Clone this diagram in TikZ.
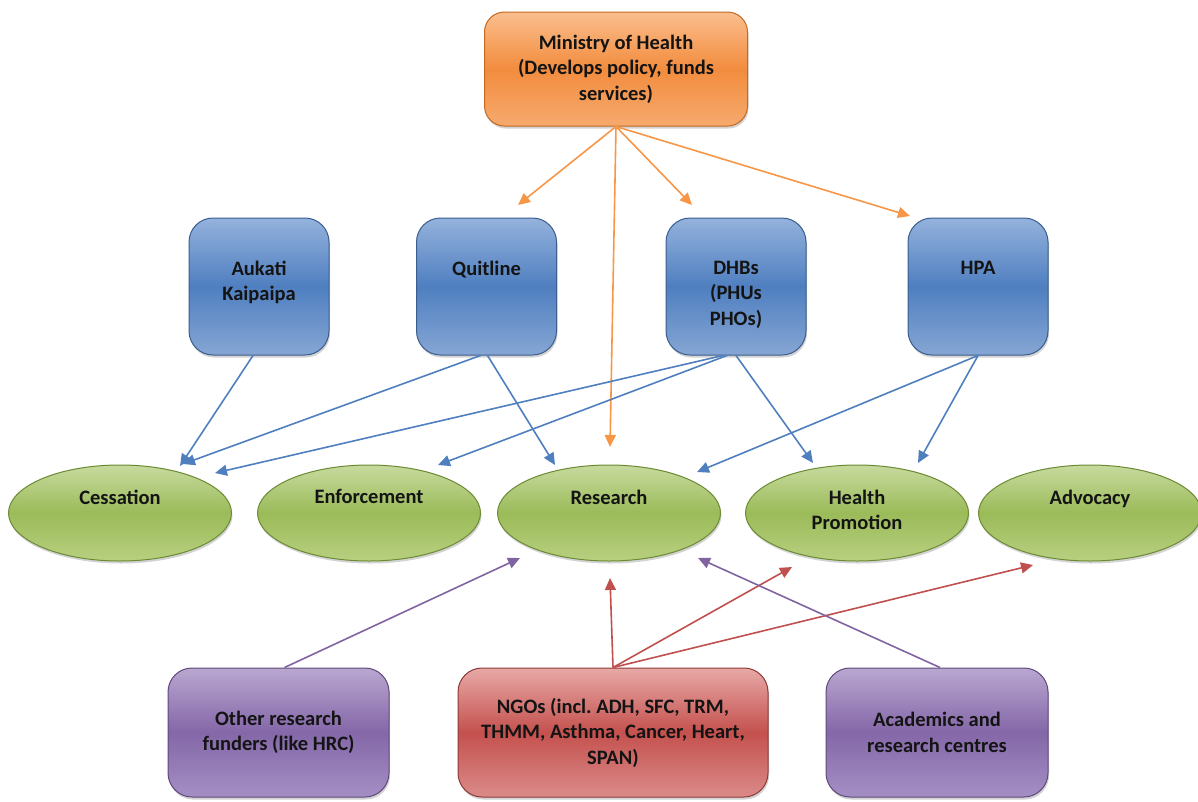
\documentclass[tikz,border=0pt]{standalone}
\usepackage{fontspec}
\setmainfont{Carlito}
\usepackage{xcolor}
\usetikzlibrary{shapes.geometric, arrows.meta, positioning, shadows}

\definecolor{orgtop}{HTML}{FBBE8E}
\definecolor{orgmid}{HTML}{F28C3E}
\definecolor{orgbot}{HTML}{F6AA6E}
\definecolor{orgline}{HTML}{C4691F}
\definecolor{blutop}{HTML}{94B2DC}
\definecolor{blumid}{HTML}{4F7FC0}
\definecolor{blubot}{HTML}{86A6D4}
\definecolor{bluline}{HTML}{3A5E8E}
\definecolor{grntop}{HTML}{C7DA9E}
\definecolor{grnmid}{HTML}{9BBB59}
\definecolor{grnbot}{HTML}{B8D080}
\definecolor{grnline}{HTML}{6B8A33}
\definecolor{prptop}{HTML}{B9A7D0}
\definecolor{prpmid}{HTML}{8467A8}
\definecolor{prpbot}{HTML}{A48FC4}
\definecolor{prpline}{HTML}{5F4A7B}
\definecolor{redtop}{HTML}{E8A9A7}
\definecolor{redmid}{HTML}{C4514E}
\definecolor{redbot}{HTML}{DA8B89}
\definecolor{redline}{HTML}{8E3A37}
\definecolor{arrorg}{HTML}{F79646}
\definecolor{arrblu}{HTML}{4F7FBE}
\definecolor{arrred}{HTML}{C0504D}
\definecolor{arrprp}{HTML}{8064A2}

\begin{document}
\begin{tikzpicture}[x=1pt, y=-1pt,
  txt/.style={font=\bfseries\fontsize{20.5}{25.5}\selectfont, text=black!92, align=center, inner sep=0pt},
  shape base/.style={draw, line width=1pt, inner sep=0pt,
    drop shadow={shadow xshift=1pt, shadow yshift=-2.5pt, opacity=.35}},
  mohbox/.style={shape base, rounded corners=20pt, draw=orgline,
    top color=orgtop, bottom color=orgbot, middle color=orgmid,
    minimum width=263pt, minimum height=114pt},
  provbox/.style={shape base, rounded corners=24pt, draw=bluline,
    top color=blutop, bottom color=blubot, middle color=blumid,
    minimum width=140pt, minimum height=137pt},
  areaell/.style={shape base, ellipse, draw=grnline,
    top color=grntop, bottom color=grnbot, middle color=grnmid,
    minimum width=223pt, minimum height=96pt},
  fundbox/.style={shape base, rounded corners=24pt, draw=prpline,
    top color=prptop, bottom color=prpbot, middle color=prpmid,
    minimum width=221pt, minimum height=129pt},
  ngobox/.style={shape base, rounded corners=24pt, draw=redline,
    top color=redtop, bottom color=redbot, middle color=redmid,
    minimum width=310pt, minimum height=129pt},
  link/.style={line width=1.6pt, -{Triangle[length=12pt, width=11pt]}},
]
  \useasboundingbox (0,0) rectangle (1198,801);

  % ministry
  \node[mohbox, txt] (moh) at (616,69) {Ministry of Health\\(Develops policy, funds\\services)};

  % providers
  \node[provbox] (aukati) at (259,286.5) {};
  \node[provbox] (quit) at (486.5,286.5) {};
  \node[provbox] (dhb) at (736,286.5) {};
  \node[provbox] (hpa) at (978,286.5) {};
  \node[txt, anchor=north] (aukatitext) at ([yshift=-43pt]aukati.north) {Aukati\\Kaipaipa};
  \node[txt, anchor=north] (quittext) at ([yshift=-43pt]quit.north) {Quitline};
  \node[txt, anchor=north] (dhbtext) at ([yshift=-43pt]dhb.north) {DHBs\\(PHUs\\PHOs)};
  \node[txt, anchor=north] (hpatext) at ([yshift=-43pt]hpa.north) {HPA};

  % areas of work
  \node[areaell] (cess) at (120,513) {};
  \node[areaell] (enf) at (369,513) {};
  \node[areaell] (res) at (609,513) {};
  \node[areaell] (promo) at (857,513) {};
  \node[areaell] (adv) at (1090,513) {};
  \node[txt, anchor=north] (cesstext) at ([yshift=-25pt]cess.north) {Cessation};
  \node[txt, anchor=north] (enftext) at ([yshift=-25pt]enf.north) {Enforcement};
  \node[txt, anchor=north] (restext) at ([yshift=-25pt]res.north) {Research};
  \node[txt, anchor=north] (promotext) at ([yshift=-25pt]promo.north) {Health\\Promotion};
  \node[txt, anchor=north] (advtext) at ([yshift=-25pt]adv.north) {Advocacy};

  % funders
  \node[fundbox, txt] (funders) at (278.5,732.5) {Other research\\funders (like HRC)};
  \node[ngobox, txt] (ngo) at (613,732.5) {NGOs (incl.\ ADH, SFC, TRM,\\THMM, Asthma, Cancer, Heart,\\SPAN)};
  \node[fundbox, txt, minimum width=222pt] (acad) at (937,732.5) {Academics and\\research centres};

  % arrow tips
  \coordinate (tipquit) at (518,205);
  \coordinate (tipdhb) at (692,205);
  \coordinate (tiphpa) at (910,216);
  \coordinate (tipresm) at (610,447);
  \coordinate (tipcessa) at (180,466);
  \coordinate (tipcessb) at (183,464);
  \coordinate (tipcessc) at (215,473);
  \coordinate (tipenf) at (438,465);
  \coordinate (tipresq) at (555,465);
  \coordinate (tipresh) at (697,472);
  \coordinate (tippromod) at (813,463);
  \coordinate (tippromoh) at (918,463);
  \coordinate (tipresf) at (520,558);
  \coordinate (tipresn) at (610,578);
  \coordinate (tippromon) at (792,567);
  \coordinate (tipadvn) at (1033,565);
  \coordinate (tipresa) at (698,558);

  % ministry funds
  \draw[link, arrorg] (moh.south) -- (tipquit);
  \draw[link, arrorg] (moh.south) -- (tipdhb);
  \draw[link, arrorg] (moh.south) -- (tiphpa);
  \draw[link, arrorg] (moh.south) -- (tipresm);

  % providers to areas
  \draw[link, arrblu] ([xshift=-6pt]aukati.south) -- (tipcessa);
  \draw[link, arrblu] ([xshift=-6pt]quit.south) -- (tipcessb);
  \draw[link, arrblu] ([xshift=1pt]quit.south) -- (tipresq);
  \draw[link, arrblu] ([xshift=-13pt]dhb.south) -- (tipcessc);
  \draw[link, arrblu] ([xshift=-9pt]dhb.south) -- (tipenf);
  \draw[link, arrblu] (dhb.south) -- (tippromod);
  \draw[link, arrblu] (hpa.south) -- (tipresh);
  \draw[link, arrblu] (hpa.south) -- (tippromoh);

  % funders to areas
  \draw[link, arrprp] ([xshift=6pt]funders.north) -- (tipresf);
  \draw[link, arrred] (ngo.north) -- (tipresn);
  \draw[link, arrred] (ngo.north) -- (tippromon);
  \draw[link, arrred] (ngo.north) -- (tipadvn);
  \draw[link, arrprp] ([xshift=3pt]acad.north) -- (tipresa);
\end{tikzpicture}
\end{document}
